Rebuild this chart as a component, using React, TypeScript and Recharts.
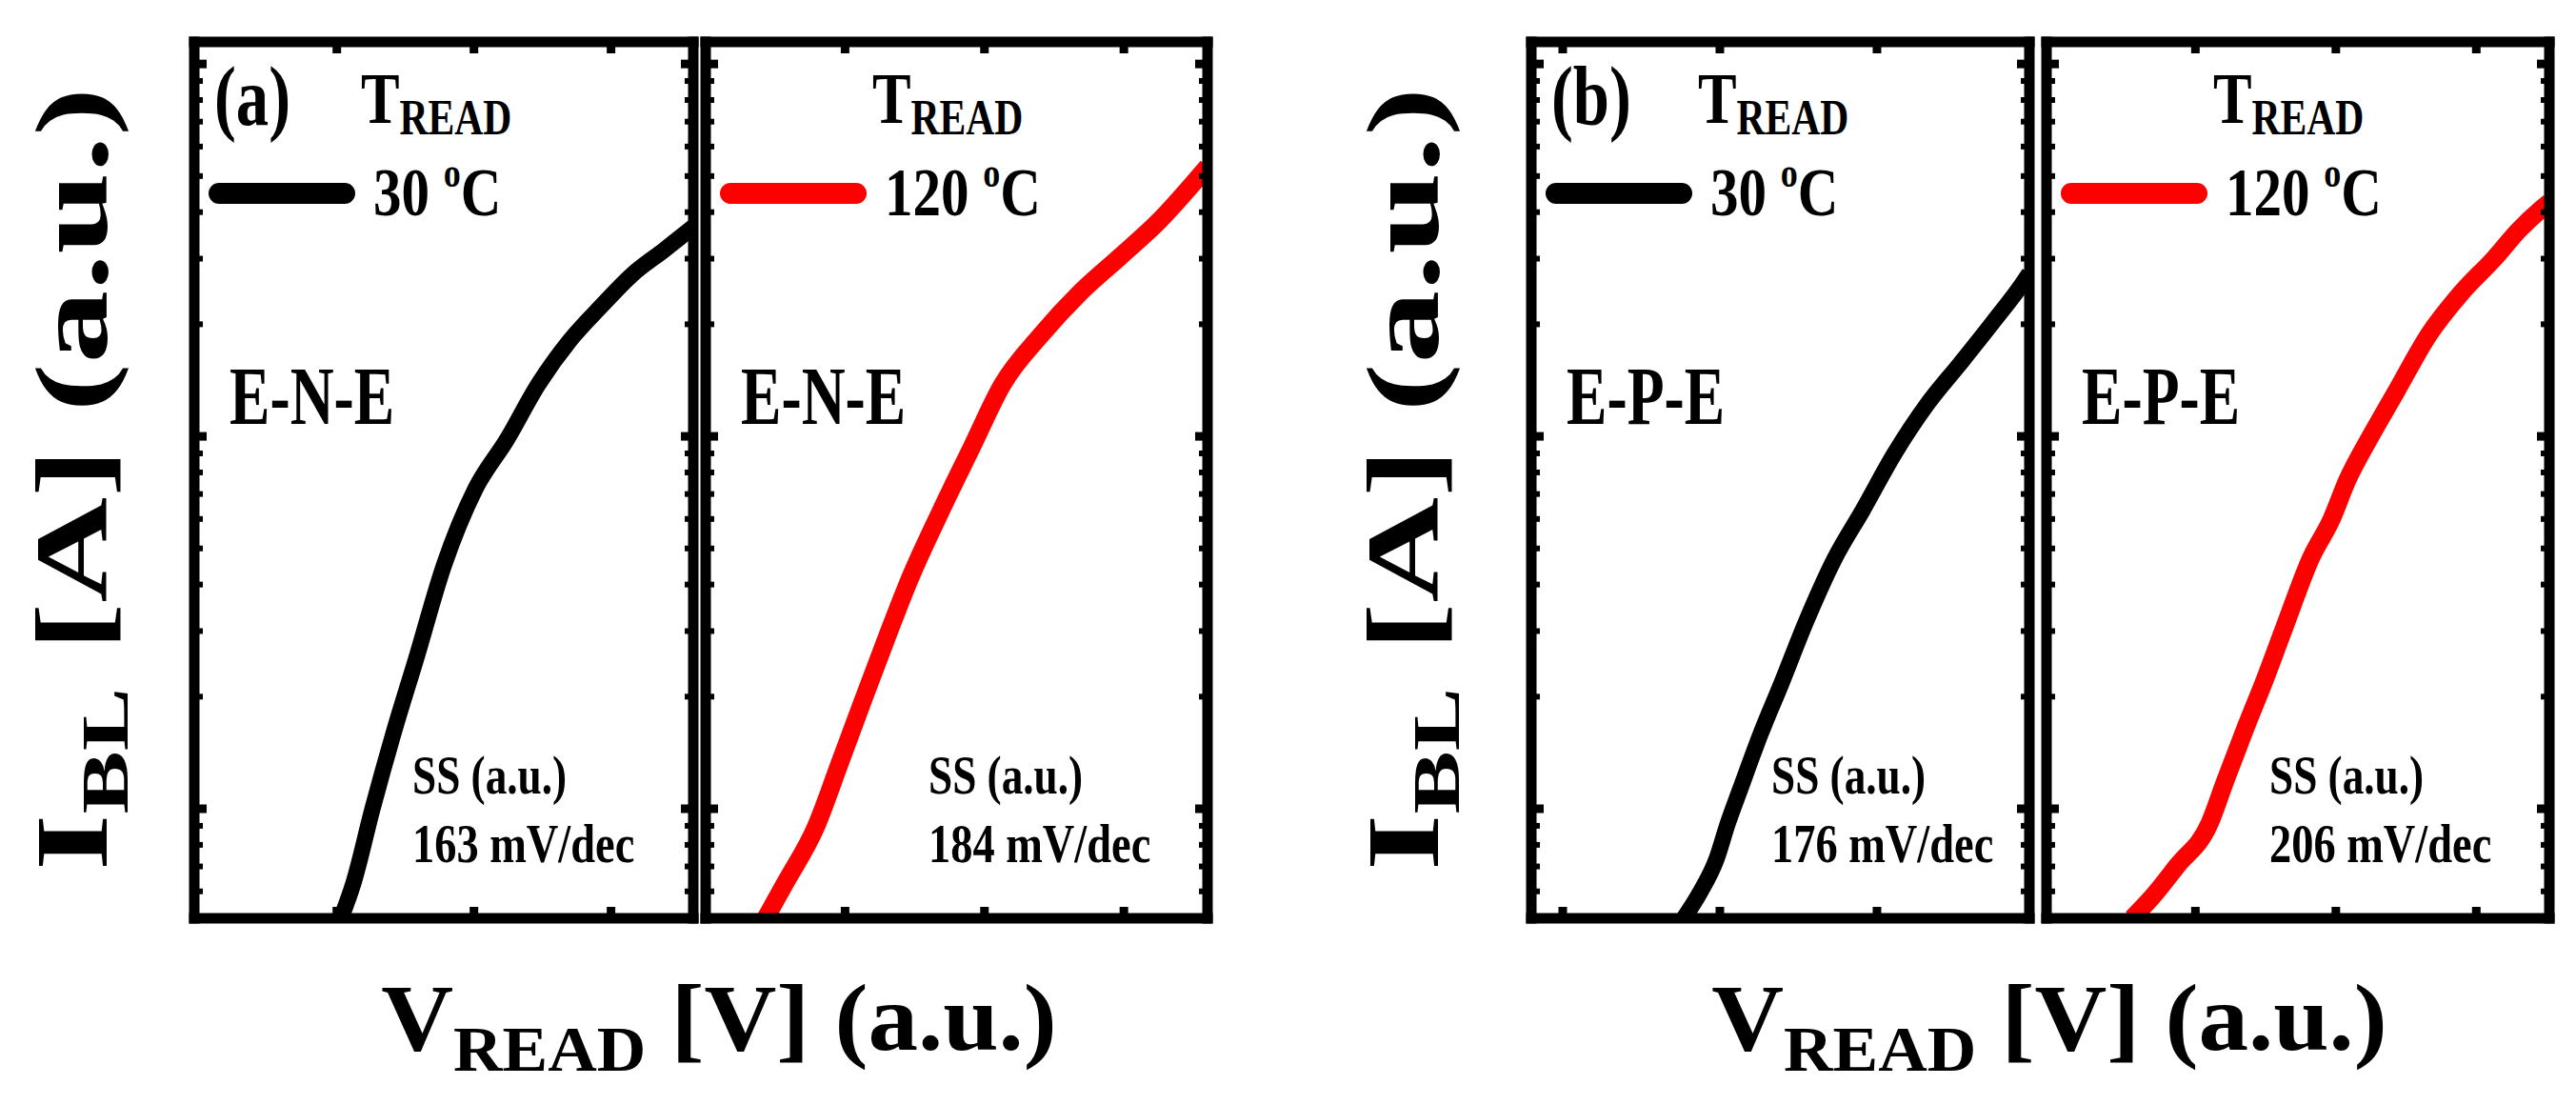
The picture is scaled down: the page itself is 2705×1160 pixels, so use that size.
import React from "react";
import { LineChart, Line, XAxis, YAxis } from "recharts";

// panel (a) E-N-E, 30 C
const A1_V = [1.03, 1.12, 1.26, 1.41, 1.58, 1.78, 2.01, 2.24, 2.47, 2.7, 2.93, 3.16, 3.39, 3.6];
const A1_I = [0.508, 0.63, 1.0, 1.58, 2.54, 4.49, 7.22, 9.8, 13.8, 18.1, 22.4, 27.3, 31.7, 36.5];
// panel (a) E-N-E, 120 C
const A2_V = [0.43, 0.57, 0.79, 0.96, 1.13, 1.3, 1.46, 1.69, 1.91, 2.13, 2.41, 2.69, 2.97, 3.25, 3.6];
const A2_I = [0.508, 0.631, 0.893, 1.32, 1.96, 2.89, 4.11, 6.34, 9.37, 13.8, 18.8, 24.4, 30.3, 37.8, 53];
// panel (b) E-P-E, 30 C
const B1_V = [1.77, 1.87, 1.98, 2.05, 2.13, 2.26, 2.39, 2.55, 2.73, 2.91, 3.11, 3.32, 3.53, 3.74, 3.92, 3.97];
const B1_I = [0.508, 0.592, 0.735, 0.912, 1.13, 1.59, 2.16, 3.19, 4.69, 6.34, 8.97, 12.2, 15.7, 20.3, 25.5, 27.4];
// panel (b) E-P-E, 120 C
const B2_V = [0.55, 0.69, 0.87, 1.1, 1.21, 1.36, 1.5, 1.65, 1.82, 1.97, 2.08, 2.26, 2.43, 2.66, 2.89, 3.13, 3.3, 3.46, 3.52];
const B2_I = [0.508, 0.578, 0.703, 0.912, 1.18, 1.66, 2.25, 3.19, 4.69, 6.0, 7.6, 10.2, 13.2, 18.7, 24.2, 30.1, 35.7, 40.7, 42.5];

const X_TICKS = [1, 2, 3];
const Y_MAJOR = [1, 10, 100];
const Y_MINOR = [0.6, 0.7, 0.8, 0.9, 2, 3, 4, 5, 6, 7, 8, 9, 20, 30, 40, 50, 60, 70, 80, 90];
const Y_DOMAIN = [0.508, 114.6];

const TAGS = ["(a)", "", "(b)", ""];
const TEMPS = ["30", "120", "30", "120"];
const STRUCTS = ["E-N-E", "E-N-E", "E-P-E", "E-P-E"];
const SS_VALUES = ["163", "184", "176", "206"];

const FONT = "'Liberation Serif', 'Times New Roman', serif";
const TOP = 43.5;
const H = 920;
const M = 20;

const PANELS = [
  { left: 203.5, width: 524, xDomain: [-0.04, 3.6], v: A1_V, i: A1_I, color: "#000000", sw: 17, ssDx: 235 },
  { left: 740.5, width: 527, xDomain: [0, 3.6], v: A2_V, i: A2_I, color: "#ff0000", sw: 19, ssDx: 240 },
  { left: 1607.5, width: 523, xDomain: [0.8, 3.97], v: B1_V, i: B1_I, color: "#000000", sw: 17, ssDx: 258 },
  { left: 2148.5, width: 528, xDomain: [-0.06, 3.52], v: B2_V, i: B2_I, color: "#ff0000", sw: 19, ssDx: 240 },
];

const frame = { stroke: "#000", strokeWidth: 11, strokeLinecap: "square" as const };
const majTick = { stroke: "#000", strokeWidth: 9 };
const minTick = { stroke: "#000", strokeWidth: 6 };
const noLabel = () => <g />;

function Panel({ p }: { p: (typeof PANELS)[number] }) {
  const data = p.v.map((v, k) => ({ v, i: p.i[k] }));
  const yCommon = {
    type: "number" as const,
    scale: "log" as const,
    domain: Y_DOMAIN,
    allowDataOverflow: true,
    mirror: true,
    width: 1,
    tick: noLabel,
    interval: 0 as const,
  };
  const xCommon = {
    type: "number" as const,
    dataKey: "v",
    domain: p.xDomain,
    ticks: X_TICKS,
    allowDataOverflow: true,
    mirror: true,
    tick: noLabel,
    interval: 0 as const,
    tickSize: 12,
    axisLine: frame,
    tickLine: majTick,
  };
  return (
    <div style={{ position: "absolute", left: p.left - M, top: TOP - M }}>
      <LineChart
        width={p.width + 2 * M}
        height={H + 2 * M}
        data={data}
        margin={{ top: M, right: M, bottom: M, left: M }}
      >
        <Line
          xAxisId="b"
          yAxisId="l"
          dataKey="i"
          type="monotone"
          stroke={p.color}
          strokeWidth={p.sw}
          dot={false}
          isAnimationActive={false}
        />
        <XAxis xAxisId="b" orientation="bottom" {...xCommon} />
        <XAxis xAxisId="t" orientation="top" {...xCommon} />
        <YAxis yAxisId="l" orientation="left" ticks={Y_MAJOR} tickSize={13} axisLine={frame} tickLine={majTick} {...yCommon} />
        <YAxis yAxisId="lm" orientation="left" ticks={Y_MINOR} tickSize={8} axisLine={false} tickLine={minTick} {...yCommon} />
        <YAxis yAxisId="r" orientation="right" ticks={Y_MAJOR} tickSize={13} axisLine={frame} tickLine={majTick} {...yCommon} />
        <YAxis yAxisId="rm" orientation="right" ticks={Y_MINOR} tickSize={8} axisLine={false} tickLine={minTick} {...yCommon} />
      </LineChart>
    </div>
  );
}

function PanelText({ k }: { k: number }) {
  const p = PANELS[k];
  const L = p.left - 5.5;
  return (
    <g fontFamily={FONT} fontWeight="bold" fill="#000">
      {TAGS[k] && (
        <text transform={`translate(${L + 27},131) scale(0.78,1)`} fontSize={88}>
          {TAGS[k]}
        </text>
      )}
      <text transform={`translate(${L + 181},129) scale(0.8,1)`} fontSize={76}>
        T<tspan fontSize={52} dy={12}>READ</tspan>
      </text>
      <line x1={L + 32} x2={L + 164} y1={203} y2={203} stroke={p.color} strokeWidth={22} strokeLinecap="round" />
      <text transform={`translate(${L + 194},226) scale(0.82,1)`} fontSize={72}>
        {TEMPS[k]}{" "}
        <tspan fontSize={44} dy={-30}>o</tspan>
        <tspan dy={30}>C</tspan>
      </text>
      <text transform={`translate(${L + 43},445) scale(0.74,1)`} fontSize={86}>
        {STRUCTS[k]}
      </text>
      <text transform={`translate(${L + p.ssDx},833) scale(0.78,1)`} fontSize={58}>
        SS (a.u.)
      </text>
      <text transform={`translate(${L + p.ssDx},905) scale(0.8,1)`} fontSize={58}>
        {SS_VALUES[k]} mV/dec
      </text>
    </g>
  );
}

function AxisTitles({ yx, xcx }: { yx: number; xcx: number }) {
  return (
    <g fontFamily={FONT} fontWeight="bold" fill="#000">
      <text transform={`translate(${yx},503) rotate(-90) scale(1.42,1)`} fontSize={108} textAnchor="middle">
        I<tspan fontSize={70} dy={22}>BL</tspan>
        <tspan dy={-22}> [A] (a.u.)</tspan>
      </text>
      <text transform={`translate(${xcx},1102) scale(1.05,1)`} fontSize={100} textAnchor="middle">
        V<tspan fontSize={68} dy={22}>READ</tspan>
        <tspan dy={-22}> [V] (a.u.)</tspan>
      </text>
    </g>
  );
}

export default function App() {
  return (
    <div style={{ position: "relative", width: 2705, height: 1160, background: "#fff", overflow: "hidden" }}>
      <style>{`body{margin:0}`}</style>
      {PANELS.map((p, k) => (
        <Panel key={k} p={p} />
      ))}
      <svg width={2705} height={1160} style={{ position: "absolute", left: 0, top: 0, pointerEvents: "none" }}>
        {PANELS.map((_, k) => (
          <PanelText key={k} k={k} />
        ))}
        <AxisTitles yx={112} xcx={755} />
        <AxisTitles yx={1510} xcx={2152} />
      </svg>
    </div>
  );
}
